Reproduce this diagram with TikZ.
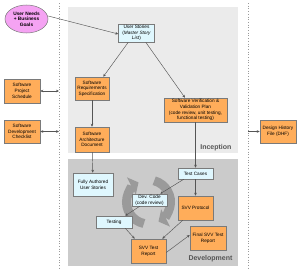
\documentclass[tikz,border=0pt]{standalone}
\usepackage{fontspec}
\setmainfont{Liberation Sans}
\usetikzlibrary{arrows.meta,shapes.geometric}
\definecolor{orbox}{HTML}{FFAD5A}
\definecolor{cybox}{HTML}{DFF7FE}
\definecolor{pinkel}{HTML}{F5A3F3}
\definecolor{incbg}{HTML}{EBEBEB}
\definecolor{devbg}{HTML}{CBCBCB}
\definecolor{edgec}{HTML}{7A7A7A}
\definecolor{linec}{HTML}{555555}
\definecolor{dotc}{HTML}{9A9A9A}
\definecolor{cyclec}{HTML}{9A9A9A}
\tikzset{
  x=1pt, y=-1pt,
  base/.style={draw=edgec, line width=0.5pt, inner sep=0.5pt, align=center,
    font=\fontsize{4.7}{5.7}\selectfont},
  obox/.style={base, fill=orbox},
  cbox/.style={base, fill=cybox},
  conn/.style={draw=linec, line width=0.45pt, -{Stealth[length=3pt,width=2.6pt]}},
  dconn/.style={draw=linec, line width=0.45pt, {Stealth[length=3pt,width=2.6pt]}-{Stealth[length=3pt,width=2.6pt]}},
  phase/.style={font=\fontsize{7}{8}\selectfont\bfseries, text=linec, anchor=east},
  cyc/.style={draw=cyclec, line width=9pt, -{Triangle[length=8pt,width=19pt]}},
  bound/.style={draw=dotc, dotted, line width=0.7pt},
}
\begin{document}
\begin{tikzpicture}
\useasboundingbox (0,0) rectangle (300,273);
% phase backgrounds
\fill[incbg] (68,7) rectangle (238,153);
\fill[devbg] (68,159) rectangle (238,266);
% dotted boundary lines
\coordinate (lt) at (59,3); \coordinate (lb) at (59,268);
\coordinate (rt) at (248,3); \coordinate (rb) at (248,268);
\draw[bound] (lt) -- (lb);
\draw[bound] (rt) -- (rb);
% cycle arrows
\draw[cyc] (148.5,202) ++(102:22) arc[start angle=102, end angle=243, radius=22];
\draw[cyc] (148.5,202) ++(285:22) arc[start angle=285, end angle=423, radius=22];
% phase labels
\node[phase] (inc) at (235,148) {Inception};
\node[phase] (dev) at (236,259) {Development};
% nodes
\node[ellipse, draw=edgec, line width=0.5pt, fill=pinkel, minimum width=43, minimum height=28, inner sep=0pt, align=center,
  font=\fontsize{4.8}{5.7}\selectfont\bfseries] (un) at (26.5,19) {User Needs\\+ Business\\Goals};
\node[cbox, minimum width=36, minimum height=18] (us) at (136.5,33) {User Stories\\(\textit{Master Story}\\\textit{List})};
\node[obox, minimum width=34, minimum height=23] (srs) at (92,88.5) {Software\\Requirements\\Specification};
\node[obox, minimum width=36, minimum height=24] (sps) at (22,91) {Software\\Project\\Schedule};
\node[obox, minimum width=36, minimum height=23] (sdc) at (22,131.5) {Software\\Development\\Checklist};
\node[obox, minimum width=34, minimum height=25] (sad) at (92,139.5) {Software\\Architecture\\Document};
\node[cbox, minimum width=40, minimum height=23] (faus) at (93,184.5) {Fully Authored\\User Stories};
\node[obox, minimum width=63, minimum height=24] (svvp) at (195.5,110) {Software Verification \&\\Validation Plan\\(code review, unit testing,\\functional testing)};
\node[obox, minimum width=36, minimum height=23] (dhf) at (278,131.5) {Design History\\File (DHF)};
\node[cbox, minimum width=35, minimum height=11] (tc) at (195.5,173.5) {Test Cases};
\node[obox, minimum width=35, minimum height=24] (svvpr) at (195.5,208) {SVV Protocol};
\node[cbox, minimum width=35, minimum height=12] (dc) at (149.5,200) {Dev. Code\\(code review)};
\node[cbox, minimum width=36, minimum height=12] (tst) at (114,222) {Testing};
\node[obox, minimum width=35, minimum height=24] (svvtr) at (148.5,251) {SVV Test\\Report};
\node[obox, minimum width=36, minimum height=24] (fsvv) at (208,238) {Final SVV Test\\Report};
% boundary points
\coordinate (lp1) at (59,91);
\coordinate (lp2) at (59,131.5);
\coordinate (rp1) at (248,131.5);
% connectors
\draw[conn] ([yshift=3pt]un.east) -- ([yshift=-1pt]us.west);
\draw[conn] ([xshift=10pt]us.south west) -- ([xshift=-6pt]srs.north east);
\draw[conn] ([xshift=-9pt]us.south east) -- ([xshift=-10.5pt]svvp.north);
\draw[conn] (srs) -- (sad);
\draw[conn] (sad) -- (faus);
\draw[dconn] (sps) -- (lp1);
\draw[dconn] (sdc) -- (lp2);
\draw[conn] (rp1) -- (dhf);
\draw[conn] (svvp) -- (tc);
\draw[conn] (tc) -- (svvpr);
\draw[conn] ([xshift=6pt]tc.south west) -- ([xshift=-7pt]dc.north east);
\draw[conn] ([xshift=8pt]dc.south west) -- ([xshift=-7pt]tst.north east);
\draw[conn] ([xshift=-7pt]tst.south east) -- ([xshift=4pt]svvtr.north west);
\draw[conn] ([xshift=5pt]svvpr.south west) -- ([xshift=-4pt]svvtr.north east);
\draw[conn] ([yshift=-1.5pt]svvtr.east) -- ([yshift=3pt]fsvv.west);
\end{tikzpicture}
\end{document}
